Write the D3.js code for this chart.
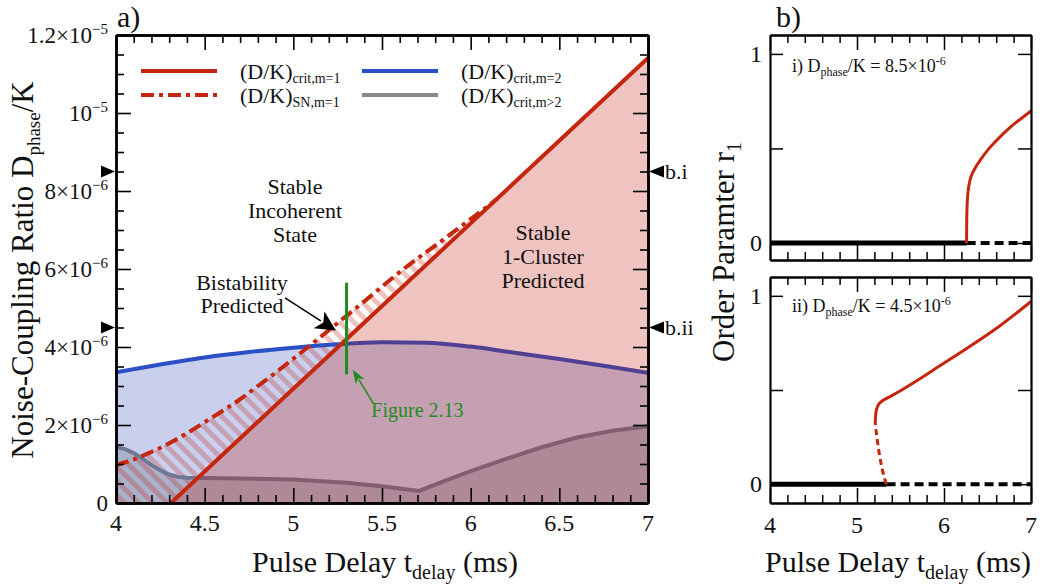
<!DOCTYPE html>
<html><head><meta charset="utf-8">
<script src="https://cdn.jsdelivr.net/npm/d3@7"></script>
<style>
body{margin:0;background:#fff}
svg{display:block}
text{font-family:"Liberation Serif","Times New Roman",serif;fill:#111}
</style>
</head><body>
<svg id="c" width="1042" height="585"></svg>
<script>
// ---------------- DATA (panel a) ----------------
const critX = [4.31, 5.0, 6.0, 7.0];                       // (D/K)crit,m=1
const critY = [0, 2.93e-6, 7.17e-6, 11.41e-6];
const snX = [4.0,4.1,4.2,4.3,4.4,4.5,4.6,4.7,4.8,4.9,5.0,5.1,5.2,5.3,5.4,5.5,5.6,5.7,5.8,5.9,6.0,6.1,6.15]; // (D/K)SN,m=1
const snY = [0.97e-6,1.12e-6,1.31e-6,1.53e-6,1.79e-6,2.07e-6,2.36e-6,2.66e-6,3.00e-6,3.34e-6,3.70e-6,4.06e-6,4.43e-6,4.80e-6,5.17e-6,5.55e-6,5.92e-6,6.27e-6,6.60e-6,6.94e-6,7.28e-6,7.62e-6,7.80e-6];
const m2X = [4.0,4.25,4.5,4.75,5.0,5.25,5.5,5.75,6.0,6.25,6.5,6.75,7.0]; // (D/K)crit,m=2
const m2Y = [3.35e-6,3.55e-6,3.73e-6,3.87e-6,3.98e-6,4.07e-6,4.12e-6,4.11e-6,4.01e-6,3.85e-6,3.69e-6,3.52e-6,3.34e-6];
const mgX = [4.0,4.05,4.1,4.15,4.2,4.25,4.3,4.35,4.4,4.5,4.7,5.0,5.3,5.5,5.71,5.85,6.0,6.2,6.4,6.6,6.8,7.0]; // (D/K)crit,m>2
const mgY = [1.44e-6,1.38e-6,1.28e-6,1.14e-6,0.97e-6,0.84e-6,0.73e-6,0.67e-6,0.65e-6,0.64e-6,0.63e-6,0.60e-6,0.52e-6,0.43e-6,0.31e-6,0.56e-6,0.82e-6,1.13e-6,1.43e-6,1.68e-6,1.85e-6,1.97e-6];
const xTicksA = [4,4.5,5,5.5,6,6.5,7];
const xTickLabelsA = ["4","4.5","5","5.5","6","6.5","7"];
const yTicksA = [0,2e-6,4e-6,6e-6,8e-6,1e-5,1.2e-5];
const yTickLabelsA = ["0","2×10^−6","4×10^−6","6×10^−6","8×10^−6","10^−5","1.2×10^−5"];
const markerVals = [8.5e-6, 4.5e-6];
const markerLabels = ["b.i","b.ii"];
const fig213X = 5.3, fig213Y = [3.3e-6, 5.65e-6];
const legendMain = ["(D/K)","(D/K)","(D/K)","(D/K)"];
const legendSub = ["crit,m=1","SN,m=1","crit,m=2","crit,m>2"];

// ---------------- DATA (panel b) ----------------
const bZeroX_i = [4, 6.26, 7];      // solid stable branch, then dashed unstable
const bRedX_i = [6.26,6.261,6.264,6.27,6.285,6.31,6.35,6.414,6.5,6.567,6.76,6.99,7.0];
const bRedR_i = [0,0.10,0.18,0.24,0.30,0.35,0.39,0.437,0.49,0.525,0.612,0.695,0.70];
const bZeroX_ii = [4, 5.34, 7];
const bRedDashX_ii = [5.335,5.29,5.25,5.22,5.21];
const bRedDashR_ii = [0,0.08,0.18,0.28,0.32];
const bRedX_ii = [5.21,5.212,5.218,5.226,5.25,5.30,5.40,5.5,5.7,5.874,6.26,6.64,7.0];
const bRedR_ii = [0.32,0.35,0.38,0.40,0.425,0.445,0.47,0.496,0.553,0.605,0.72,0.84,0.97];
const xTicksB = [4,5,6,7];
const yTicksB = [0,0.5,1];
const yTickLabelsB = ["0","","1"];

// ---------------- SETUP ----------------
const svg = d3.select("#c");
const RED = "#c4260e", BLUE = "#2b4fc4", GRAYL = "#6e7794", GREEN = "#1f8c1f";

const xa = d3.scaleLinear().domain([4,7]).range([116,648]);
const ya = d3.scaleLinear().domain([0,1.2e-5]).range([503,35]);
const xb = d3.scaleLinear().domain([4,7]).range([770,1031]);
const yb1 = d3.scaleLinear().domain([-0.09,1.1]).range([260,35]);
const yb2 = d3.scaleLinear().domain([-0.1,1.1]).range([503,277]);

function rich(g, x, y, parts, size, anchor, fill){
  const t = g.append("text").attr("x",x).attr("y",y).attr("font-size",size)
    .attr("text-anchor",anchor||"start");
  if (fill) t.style("fill",fill);
  let cur = 0;
  parts.forEach(p=>{
    const ts = t.append("tspan").text(p.t);
    const off = p.off||0;
    if (off-cur!==0) ts.attr("dy", off-cur);
    cur = off;
    if (p.size) ts.attr("font-size", p.size);
  });
  return t;
}
function sup(str){
  const [a,b] = str.split("^");
  const parts=[{t:a}];
  if (b!==undefined) parts.push({t:b,size:15,off:-9});
  return parts;
}

const defs = svg.append("defs");
defs.append("clipPath").attr("id","clipA").append("rect")
  .attr("x",xa(4)).attr("y",ya(1.2e-5)).attr("width",xa(7)-xa(4)).attr("height",ya(0)-ya(1.2e-5));
const aboveCrit = [[4,0]].concat(critX.map((x,i)=>[x,critY[i]])).concat([[7,1.2e-5],[4,1.2e-5]]);
defs.append("clipPath").attr("id","clipAbove").append("path")
  .attr("d", d3.line().x(d=>xa(d[0])).y(d=>ya(d[1]))(aboveCrit)+"Z");
const pat = defs.append("pattern").attr("id","hatch").attr("patternUnits","userSpaceOnUse")
  .attr("width",10).attr("height",10).attr("patternTransform","rotate(-45)");
pat.append("rect").attr("x",0).attr("y",0).attr("width",5).attr("height",10).attr("fill","rgba(195,40,25,0.28)");

// ---------------- PANEL A ----------------
const gA = svg.append("g");
const plotA = gA.append("g").attr("clip-path","url(#clipA)");
const m2 = m2X.map((x,i)=>[x,m2Y[i]]);
const mg = mgX.map((x,i)=>[x,mgY[i]]);
const sn = snX.map((x,i)=>[x,snY[i]]);
const crit = critX.map((x,i)=>[x,critY[i]]);

plotA.append("path").attr("d", d3.area().x(d=>xa(d[0])).y0(ya(0)).y1(d=>ya(d[1])).curve(d3.curveMonotoneX)(m2))
  .attr("fill","#c8d0ee");
plotA.append("path").attr("d", d3.area().x(d=>xa(d[0])).y0(ya(0)).y1(d=>ya(d[1]))(mg))
  .attr("fill","rgba(0,0,0,0.15)");
plotA.append("g").attr("clip-path","url(#clipAbove)").append("path")
  .attr("d", d3.area().x(d=>xa(d[0])).y0(ya(0)).y1(d=>ya(d[1])).curve(d3.curveMonotoneX)(sn))
  .attr("fill","url(#hatch)");
plotA.append("path").attr("d", d3.line().x(d=>xa(d[0])).y(d=>ya(d[1]))(mg))
  .attr("fill","none").attr("stroke",GRAYL).attr("stroke-width",4);
plotA.append("path").attr("d", d3.line().x(d=>xa(d[0])).y(d=>ya(d[1])).curve(d3.curveMonotoneX)(m2))
  .attr("fill","none").attr("stroke",BLUE).attr("stroke-width",4);
plotA.append("path").attr("d", d3.area().x(d=>xa(d[0])).y0(ya(0)).y1(d=>ya(d[1]))(crit))
  .attr("fill","rgba(190,25,10,0.26)");
plotA.append("path").attr("d", d3.line().x(d=>xa(d[0])).y(d=>ya(d[1])).curve(d3.curveMonotoneX)(sn))
  .attr("fill","none").attr("stroke",RED).attr("stroke-width",4).attr("stroke-dasharray","13,5,4,5");
plotA.append("path").attr("d", d3.line().x(d=>xa(d[0])).y(d=>ya(d[1]))(crit))
  .attr("fill","none").attr("stroke",RED).attr("stroke-width",4);
plotA.append("line").attr("x1",xa(fig213X)).attr("x2",xa(fig213X)).attr("y1",ya(fig213Y[0])).attr("y2",ya(fig213Y[1]))
  .attr("stroke",GREEN).attr("stroke-width",3);

function arrow(g, x1,y1,x2,y2, color, len, hw, sw){
  const dx=x2-x1, dy=y2-y1, L=Math.hypot(dx,dy), ux=dx/L, uy=dy/L;
  const bx=x2-ux*len, by=y2-uy*len;
  g.append("line").attr("x1",x1).attr("y1",y1).attr("x2",bx+ux*2).attr("y2",by+uy*2).attr("stroke",color).attr("stroke-width",sw);
  g.append("path").attr("d",`M${x2},${y2}L${bx-uy*hw},${by+ux*hw}L${bx+ux*len*0.25},${by+uy*len*0.25}L${bx+uy*hw},${by-ux*hw}Z`).attr("fill",color);
}
arrow(gA, xa(4.953), ya(5.26e-6), xa(5.24), ya(4.42e-6), "#000", 20, 10, 1.5);
arrow(gA, xa(5.45), ya(2.56e-6), xa(5.335), ya(3.42e-6), GREEN, 14, 5, 1.5);
gA.append("text").attr("x",xa(5.44)).attr("y",ya(2.2e-6)).attr("font-size",20).style("fill",GREEN).text("Figure 2.13");

[["Stable",194],["Incoherent",218],["State",242]].forEach(d=>
  gA.append("text").attr("x",295).attr("y",d[1]).attr("font-size",22).attr("text-anchor","middle").text(d[0]));
[["Stable",240],["1-Cluster",264],["Predicted",288]].forEach(d=>
  gA.append("text").attr("x",543).attr("y",d[1]).attr("font-size",22).attr("text-anchor","middle").text(d[0]));
[["Bistability",290],["Predicted",313]].forEach(d=>
  gA.append("text").attr("x",242).attr("y",d[1]).attr("font-size",22).attr("text-anchor","middle").text(d[0]));

const legStyles = [{c:RED,d:null},{c:RED,d:"13,5,4,5"},{c:BLUE,d:null},{c:"#888",d:null}];
legendMain.forEach((m,i)=>{
  const col = Math.floor(i/2), row = i%2;
  const lx = col===0?141:362, ty = row===0?71:95;
  const ln = gA.append("line").attr("x1",lx).attr("x2",lx+76).attr("y1",ty).attr("y2",ty)
    .attr("stroke",legStyles[i].c).attr("stroke-width",4);
  if (legStyles[i].d) ln.attr("stroke-dasharray",legStyles[i].d);
  rich(gA, lx+99, ty+8, [{t:m},{t:legendSub[i],size:14,off:4}], 22);
});

(function axesA(){
  const minorX = d3.range(40,71).map(v=>v/10).filter(v=>Math.abs(v*2-Math.round(v*2))>1e-6);
  const minorY = d3.range(0,25).map(v=>v*5e-7).filter((v,i)=>i%4!==0);
  const g = gA.append("g");
  const mk = (axis, tr) => {
    const a = g.append("g").attr("transform",tr).call(axis);
    a.selectAll("path").attr("stroke","#000").attr("stroke-width",2.5);
    a.selectAll("line").attr("stroke","#000").attr("stroke-width",1.6);
    a.selectAll("text").remove();
  };
  mk(d3.axisBottom(xa).tickValues(xTicksA).tickSize(-15).tickSizeOuter(0), `translate(0,${ya(0)})`);
  mk(d3.axisBottom(xa).tickValues(minorX).tickSize(-8).tickSizeOuter(0), `translate(0,${ya(0)})`);
  mk(d3.axisTop(xa).tickValues(xTicksA).tickSize(-15).tickSizeOuter(0), `translate(0,${ya(1.2e-5)})`);
  mk(d3.axisTop(xa).tickValues(minorX).tickSize(-8).tickSizeOuter(0), `translate(0,${ya(1.2e-5)})`);
  mk(d3.axisLeft(ya).tickValues(yTicksA).tickSize(-15).tickSizeOuter(0), `translate(${xa(4)},0)`);
  mk(d3.axisLeft(ya).tickValues(minorY).tickSize(-8).tickSizeOuter(0), `translate(${xa(4)},0)`);
  mk(d3.axisRight(ya).tickValues(yTicksA).tickSize(-15).tickSizeOuter(0), `translate(${xa(7)},0)`);
  mk(d3.axisRight(ya).tickValues(minorY).tickSize(-8).tickSizeOuter(0), `translate(${xa(7)},0)`);
  xTicksA.forEach((v,i)=> g.append("text").attr("x",xa(v)).attr("y",531).attr("font-size",24).attr("text-anchor","middle").text(xTickLabelsA[i]));
  yTicksA.forEach((v,i)=> rich(g, xa(4)-8, ya(v)+8, sup(yTickLabelsA[i]), 23, "end"));
})();

markerVals.forEach((v,i)=>{
  const y = ya(v);
  gA.append("path").attr("d",`M${xa(7)+1},${y}L${xa(7)+16},${y-6}L${xa(7)+16},${y+6}Z`).attr("fill","#000");
  gA.append("text").attr("x",xa(7)+17).attr("y",y+7).attr("font-size",22).text(markerLabels[i]);
  gA.append("path").attr("d",`M${xa(4)-1},${y}L${xa(4)-15},${y-6}L${xa(4)-15},${y+6}Z`).attr("fill","#000");
});

svg.append("text").attr("x",117).attr("y",27).attr("font-size",30).text("a)");
svg.append("text").attr("x",776).attr("y",27).attr("font-size",30).text("b)");
rich(svg, 385, 572, [{t:"Pulse Delay t"},{t:"delay",size:20,off:7},{t:" (ms)",off:0}], 30, "middle");
rich(svg, 898, 572, [{t:"Pulse Delay t"},{t:"delay",size:20,off:7},{t:" (ms)",off:0}], 30, "middle");
rich(svg.append("g").attr("transform","translate(33,270) rotate(-90)"), 0, 0,
  [{t:"Noise-Coupling Ratio D"},{t:"phase",size:19,off:7},{t:"/K",off:0}], 31, "middle");
rich(svg.append("g").attr("transform","translate(734,252) rotate(-90)"), 0, 0,
  [{t:"Order Paramter r"},{t:"1",size:20,off:7}], 31, "middle");

// ---------------- PANEL B ----------------
function panelB(yb, zeroX, redX, redR, dashX, dashR, label, ty, showX){
  const g = svg.append("g");
  const line = d3.line().x(d=>xb(d[0])).y(d=>yb(d[1]));
  g.append("path").attr("d", line([[zeroX[0],0],[zeroX[1],0]])).attr("stroke","#000").attr("stroke-width",5).attr("fill","none");
  g.append("path").attr("d", line([[zeroX[1],0],[zeroX[2],0]])).attr("stroke","#000").attr("stroke-width",4).attr("stroke-dasharray","9,5").attr("fill","none");
  if (dashX) g.append("path").attr("d", d3.line().x(d=>xb(d[0])).y(d=>yb(d[1])).curve(d3.curveCatmullRom)(dashX.map((x,i)=>[x,dashR[i]])))
    .attr("stroke",RED).attr("stroke-width",3).attr("stroke-dasharray","6,4").attr("fill","none");
  g.append("path").attr("d", d3.line().x(d=>xb(d[0])).y(d=>yb(d[1])).curve(d3.curveCatmullRom)(redX.map((x,i)=>[x,redR[i]])))
    .attr("stroke",RED).attr("stroke-width",3).attr("fill","none");
  const [top,bot] = [yb.range()[1], yb.range()[0]];
  const minorX = d3.range(40,71,2).map(v=>v/10).filter(v=>Math.abs(v-Math.round(v))>1e-6);
  const mk = (axis, tr) => {
    const a = g.append("g").attr("transform",tr).call(axis);
    a.selectAll("path").attr("stroke","#000").attr("stroke-width",2.2);
    a.selectAll("line").attr("stroke","#000").attr("stroke-width",1.5);
    a.selectAll("text").remove();
  };
  mk(d3.axisBottom(xb).tickValues(xTicksB).tickSize(-15).tickSizeOuter(0), `translate(0,${bot})`);
  mk(d3.axisBottom(xb).tickValues(minorX).tickSize(-8).tickSizeOuter(0), `translate(0,${bot})`);
  mk(d3.axisTop(xb).tickValues(xTicksB).tickSize(-15).tickSizeOuter(0), `translate(0,${top})`);
  mk(d3.axisTop(xb).tickValues(minorX).tickSize(-8).tickSizeOuter(0), `translate(0,${top})`);
  mk(d3.axisLeft(yb).tickValues(yTicksB).tickSize(-13).tickSizeOuter(0), `translate(${xb(4)},0)`);
  mk(d3.axisRight(yb).tickValues(yTicksB).tickSize(-13).tickSizeOuter(0), `translate(${xb(7)},0)`);
  yTicksB.forEach((v,i)=> g.append("text").attr("x",xb(4)-8).attr("y",yb(v)+8).attr("font-size",24).attr("text-anchor","end").text(yTickLabelsB[i]));
  if (showX) xTicksB.forEach(v=> g.append("text").attr("x",xb(v)).attr("y",533).attr("font-size",24).attr("text-anchor","middle").text(v));
  rich(g, 792, ty, label, 18);
}
panelB(yb1, bZeroX_i, bRedX_i, bRedR_i, null, null,
  [{t:"i) D"},{t:"phase",size:12,off:4},{t:"/K = 8.5×10",off:0},{t:"-6",size:12,off:-7}], 72, false);
panelB(yb2, bZeroX_ii, bRedX_ii, bRedR_ii, bRedDashX_ii, bRedDashR_ii,
  [{t:"ii) D"},{t:"phase",size:12,off:4},{t:"/K = 4.5×10",off:0},{t:"-6",size:12,off:-7}], 312, true);
</script>
</body></html>
